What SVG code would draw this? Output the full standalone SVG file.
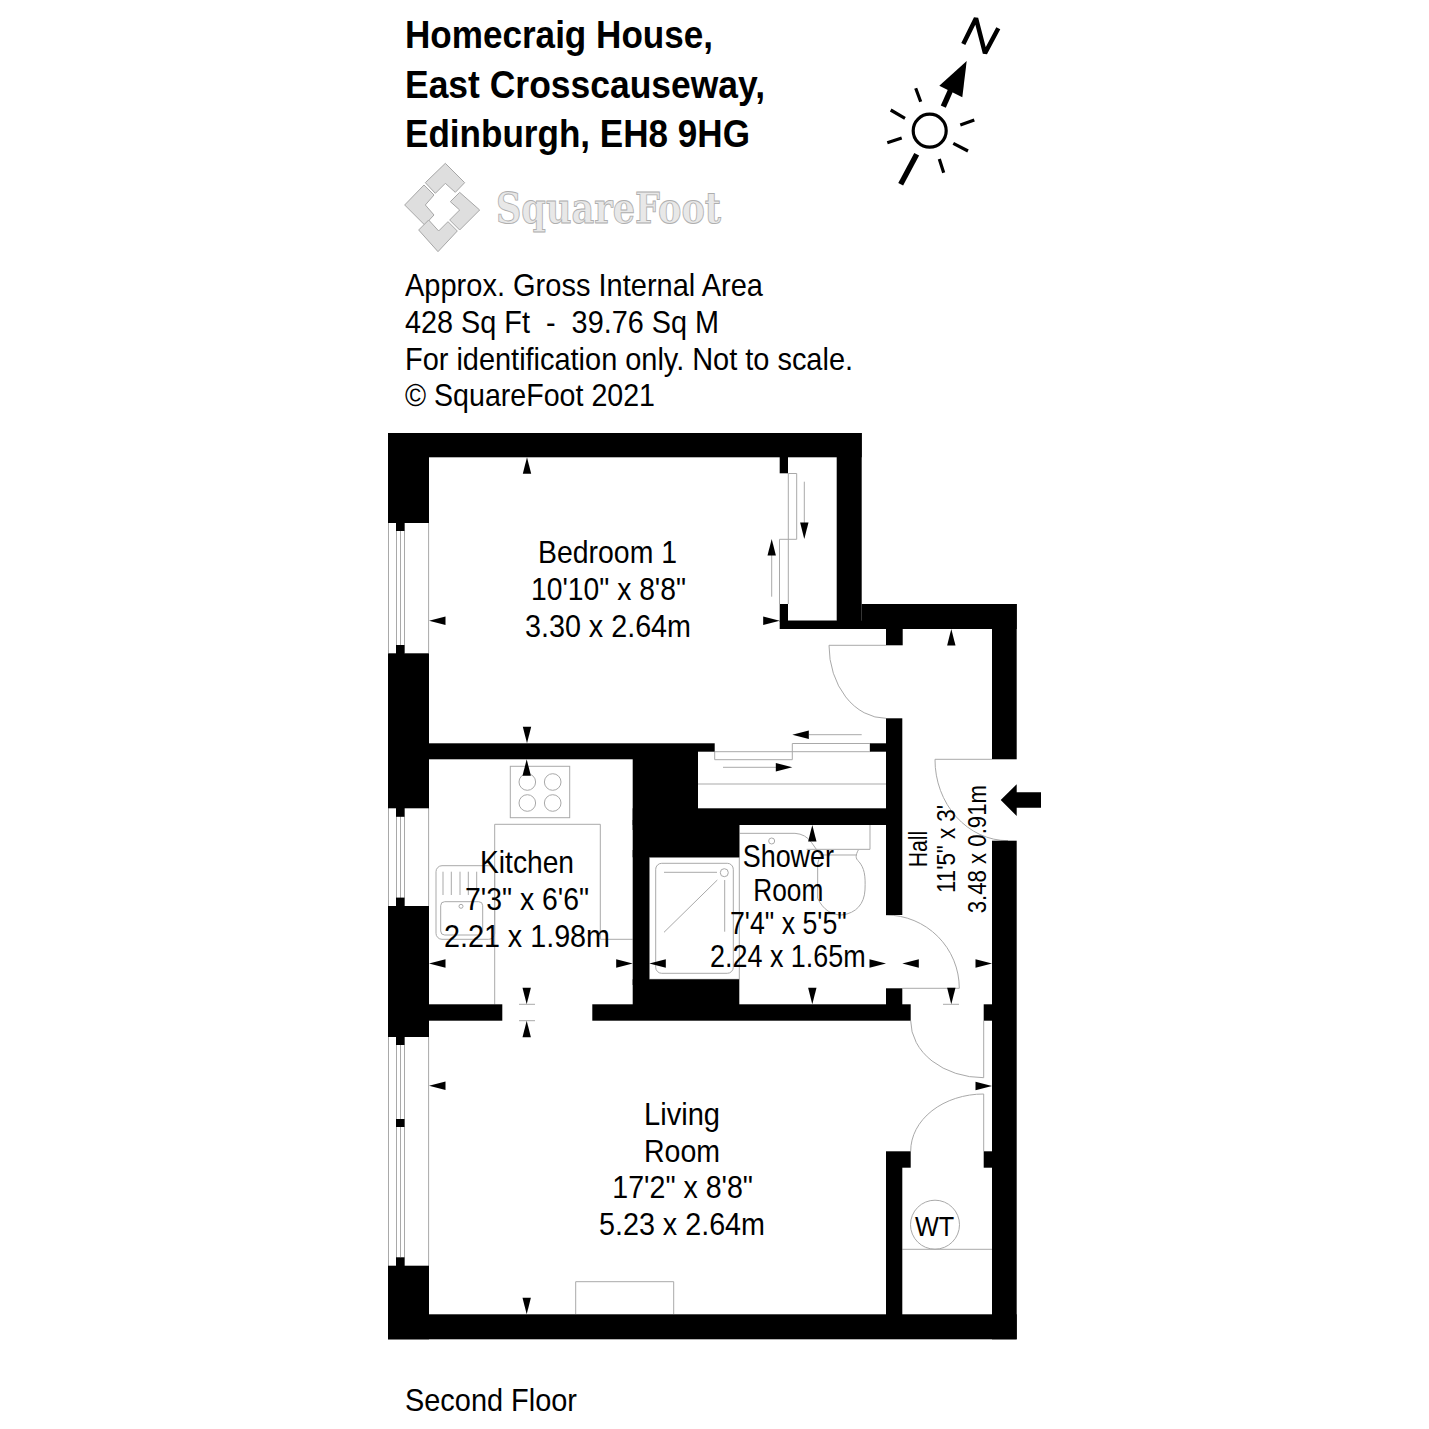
<svg xmlns="http://www.w3.org/2000/svg" xmlns:xlink="http://www.w3.org/1999/xlink" width="1429" height="1429" viewBox="0 0 1429 1429">
<style>
text{font-family:"Liberation Sans",Arial,sans-serif;fill:#000;white-space:pre}
.t{font-size:38px;font-weight:700}
.i{font-size:32px}
.r{font-size:32px}
.h{font-size:26px}
.wall{fill:#000}
.ln{fill:none;stroke:#a9a9a9;stroke-width:1}
.ar{fill:#000}
.sun{fill:none;stroke:#000;stroke-width:3.2}
.logo{fill:#dedede;stroke:#a6a6a6;stroke-width:3}
</style>
<defs>
<polygon id="tri" points="0,0 4.2,16.5 -4.2,16.5"/>
</defs>
<rect width="1429" height="1429" fill="#fff"/>

<g id="title">
<text class="t" x="405" y="48" textLength="308" lengthAdjust="spacingAndGlyphs">Homecraig House,</text>
<text class="t" x="405" y="98" textLength="360" lengthAdjust="spacingAndGlyphs">East Crosscauseway,</text>
<text class="t" x="405" y="147" textLength="345" lengthAdjust="spacingAndGlyphs">Edinburgh, EH8 9HG</text>
</g>

<g id="compass">
<circle class="sun" cx="929.7" cy="130.7" r="16.5"/>
<path class="sun" d="M915.7 88.3L920.7 101.7M890.7 110L905 118.3M887.3 142.7L901.7 138M974.3 120L960.3 125M953.3 143.3L968 151M939.3 159L943.7 172.7"/>
<path d="M916.7 154.3L900.7 184.3" stroke="#000" stroke-width="5.5" fill="none"/>
<path d="M943.3 106.7L952 87" stroke="#000" stroke-width="5.5" fill="none"/>
<polygon points="966.7,61 939.3,85.7 962.3,97.3" fill="#000"/>
<path d="M963.3 44L976 18.3L985 53.3L998.3 28.3" stroke="#000" stroke-width="4.5" fill="none" stroke-linejoin="bevel"/>
</g>

<g id="logo">
<g transform="translate(398 160) scale(.3333)">
<polygon class="logo" points="142,10 200,68 172,97 142,70 112,100 82,68"/>
<polygon class="logo" points="78,75 108,105 82,135 108,165 80,195 20,135"/>
<polygon class="logo" points="185,97 245,150 185,210 155,180 185,150 157,125"/>
<polygon class="logo" points="62,210 92,180 122,213 150,185 178,213 120,275"/>
</g>
<text x="496" y="223" textLength="225" lengthAdjust="spacingAndGlyphs" style="font-family:'DejaVu Serif',serif;font-size:42px;font-weight:700;fill:#e8e8e8;stroke:#aeaeae;stroke-width:.9">SquareFoot</text>
</g>

<g id="info">
<text class="i" x="405" y="296" textLength="358" lengthAdjust="spacingAndGlyphs">Approx. Gross Internal Area</text>
<text class="i" x="405" y="333" textLength="314" lengthAdjust="spacingAndGlyphs">428 Sq Ft  -  39.76 Sq M</text>
<text class="i" x="405" y="370" textLength="448" lengthAdjust="spacingAndGlyphs">For identification only. Not to scale.</text>
<text class="i" x="405" y="406" textLength="250" lengthAdjust="spacingAndGlyphs">© SquareFoot 2021</text>
</g>

<g id="fixtures">
<path class="ln" d="M388.5 523V653M396.5 523V653M400.5 531V645M404.5 523V653M428.6 523V653"/>
<path class="ln" d="M388.5 808V906M396.5 808V906M400.5 816V898M404.5 808V906M428.6 808V906"/>
<path class="ln" d="M388.5 1037V1266M396.5 1037V1266M400.5 1045V1257M404.5 1037V1266M428.6 1037V1266"/>
<path class="ln" d="M788.3 473.3V604M788.3 473.5H796.7V539.3H779.5V604M804.3 481.7V525M771.7 553V596.7"/>
<path class="ln" d="M788 620.7H836.7"/>
<path class="ln" d="M886 645.3H829A57 73 0 0 0 886 718.3"/>
<path class="ln" d="M714.7 751.7H870M714.7 751.7V759.7H792.3V743.5H870V751.7M809 734.7H861.7M723 767.3H777M698 784H886"/>
<path class="ln" d="M992 759.3H935A73 81 0 0 0 1008 840.7"/>
<rect class="ln" x="510.3" y="766.3" width="59.4" height="51.4"/>
<circle class="ln" cx="527.3" cy="782" r="8.3"/><circle class="ln" cx="552.7" cy="782" r="8.3"/>
<circle class="ln" cx="527.3" cy="803" r="8.3"/><circle class="ln" cx="552.7" cy="803" r="8.3"/>
<path class="ln" d="M494.7 1004.3V824.3H600.3V939.3H632.7"/>
<rect class="ln" x="436" y="865.7" width="58.7" height="73.6" rx="6"/>
<rect class="ln" x="440.7" y="901.7" width="42" height="33.3" rx="4"/>
<path class="ln" d="M443 871.7V895M451.3 871.7V895M460 871.7V895M468.3 871.7V895M476.7 871.7V895"/>
<circle class="ln" cx="461" cy="906.3" r="2"/>
<path class="ln" d="M519 1004.3H535M519 1020.7H535"/>
<path class="ln" d="M575.7 1314V1281.7H673.7V1314"/>
<rect class="ln" x="655.7" y="863.3" width="77.6" height="110" rx="6"/>
<circle class="ln" cx="724.3" cy="872.7" r="4"/>
<path class="ln" d="M664 872.3H717M724.7 880V931.7M664 932.3L717.3 880M649.3 979.3H739.3V825M649.3 857.3V979.3M649.3 857.3H739.3"/>
<g transform="translate(735 820) scale(.3333)" fill="none" stroke="#a9a9a9" stroke-width="3">
<path d="M14 40H180Q212 42 230 68Q245 90 262 112"/>
<circle cx="110" cy="63" r="9"/>
<path d="M215 88H405V15"/>
<path d="M262 105H365M370 90C362 105 360 115 372 125C388 145 392 165 390 210C388 250 365 280 320 285C290 285 265 270 248 235V140Q248 115 262 105"/>
</g>
<path class="ln" d="M902.3 988.3H959.3A73.3 73.3 0 0 0 886 915"/>
<path class="ln" d="M943 1004.3H959"/>
<path class="ln" d="M983.7 1020.7V1077.7A73 57 0 0 1 910.7 1020.7"/>
<path class="ln" d="M983.7 1151.3V1094A73 57 0 0 0 910.7 1151.3"/>
<circle class="ln" cx="935" cy="1224.7" r="24.5"/>
<path class="ln" d="M902.3 1249.3H992"/>
</g>

<g id="walls" class="wall">
<rect x="388" y="433" width="473.7" height="24.3"/>
<rect x="388" y="433" width="41" height="90"/>
<rect x="396" y="520" width="8.5" height="11"/><rect x="396" y="645" width="8.5" height="10"/>
<rect x="388" y="653.3" width="41" height="155"/>
<rect x="396" y="806" width="8.5" height="10.8"/><rect x="396" y="897.6" width="8.5" height="10"/>
<rect x="388" y="906" width="41" height="131"/>
<rect x="396" y="1035" width="8.5" height="10"/><rect x="396" y="1119" width="8.5" height="8"/><rect x="396" y="1257.3" width="8.5" height="10"/>
<rect x="388" y="1265.7" width="41" height="73.6"/>
<rect x="388" y="1314.3" width="628.7" height="25"/>
<rect x="992" y="840.7" width="24.7" height="498.6"/>
<rect x="992" y="604" width="24.7" height="155.3"/>
<rect x="836.7" y="433" width="25" height="196"/>
<rect x="861.7" y="604" width="155" height="25"/>
<rect x="779.7" y="620.7" width="212.3" height="8.3"/>
<rect x="779.7" y="455" width="8.3" height="18.3"/>
<rect x="779.7" y="604" width="8.3" height="18"/>
<rect x="886" y="627" width="16.7" height="18.3"/>
<rect x="886" y="718.3" width="16.3" height="196.7"/>
<rect x="429" y="743.3" width="285.7" height="8.4"/>
<rect x="427" y="745" width="271" height="14.3"/>
<rect x="870" y="743.3" width="18" height="8.4"/>
<rect x="632.7" y="745" width="65.3" height="85"/>
<rect x="632.7" y="808.3" width="255" height="16.7"/>
<rect x="632.7" y="820" width="106.6" height="37.3"/>
<rect x="632.7" y="850" width="16.6" height="135"/>
<rect x="632.7" y="979.3" width="106.6" height="30"/>
<rect x="427" y="1004.3" width="75.3" height="16.4"/>
<rect x="592.3" y="1004.3" width="318.4" height="16.4"/>
<rect x="886" y="988.3" width="16.3" height="18"/>
<rect x="983.7" y="1004.3" width="10" height="16.4"/>
<rect x="886" y="1151.3" width="24.7" height="16.4"/>
<rect x="886" y="1165" width="16.3" height="151"/>
<rect x="983.7" y="1151.3" width="10" height="16.4"/>
</g>

<g id="measure-arrows" class="ar">
<use href="#tri" transform="translate(527 457.3)"/>
<use href="#tri" transform="translate(527 743.3) rotate(180)"/>
<use href="#tri" transform="translate(429 620.7) rotate(-90)"/>
<use href="#tri" transform="translate(779.7 620.7) rotate(90)"/>
<use href="#tri" transform="translate(771.7 539)"/>
<use href="#tri" transform="translate(804.3 539) rotate(180)"/>
<use href="#tri" transform="translate(792.3 734.7) rotate(-90)"/>
<use href="#tri" transform="translate(792.3 767.3) rotate(90)"/>
<use href="#tri" transform="translate(951.3 629)"/>
<use href="#tri" transform="translate(526.7 759.3)"/>
<use href="#tri" transform="translate(526.7 1004.3) rotate(180)"/>
<use href="#tri" transform="translate(429 963.5) rotate(-90)"/>
<use href="#tri" transform="translate(632.7 963.5) rotate(90)"/>
<use href="#tri" transform="translate(649.3 963.5) rotate(-90)"/>
<use href="#tri" transform="translate(886 963.5) rotate(90)"/>
<use href="#tri" transform="translate(812.3 825)"/>
<use href="#tri" transform="translate(812.3 1004.3) rotate(180)"/>
<use href="#tri" transform="translate(902.3 963.5) rotate(-90)"/>
<use href="#tri" transform="translate(992 963.5) rotate(90)"/>
<use href="#tri" transform="translate(951.3 1004.3) rotate(180)"/>
<use href="#tri" transform="translate(992 1086) rotate(90)"/>
<use href="#tri" transform="translate(526.7 1020.7)"/>
<use href="#tri" transform="translate(429 1085.7) rotate(-90)"/>
<use href="#tri" transform="translate(526.7 1314.3) rotate(180)"/>
</g>

<g id="entry-arrow">
<polygon points="1000.7,800 1016.7,784.3 1016.7,792.3 1041,792.3 1041,807.7 1016.7,807.7 1016.7,816" fill="#000"/>
</g>

<g id="bedroom-label">
<text class="r" x="538" y="563.3" textLength="139" lengthAdjust="spacingAndGlyphs">Bedroom 1</text>
<text class="r" x="531" y="600" textLength="155" lengthAdjust="spacingAndGlyphs">10'10" x 8'8"</text>
<text class="r" x="525" y="636.7" textLength="166" lengthAdjust="spacingAndGlyphs">3.30 x 2.64m</text>
</g>
<g id="kitchen-label">
<text class="r" x="480" y="873.3" textLength="94" lengthAdjust="spacingAndGlyphs">Kitchen</text>
<text class="r" x="465" y="910" textLength="124" lengthAdjust="spacingAndGlyphs">7'3" x 6'6"</text>
<text class="r" x="444" y="946.7" textLength="166" lengthAdjust="spacingAndGlyphs">2.21 x 1.98m</text>
</g>
<g id="shower-label">
<text class="r" x="742.7" y="866.7" textLength="91.3" lengthAdjust="spacingAndGlyphs">Shower</text>
<text class="r" x="753.3" y="900.7" textLength="70" lengthAdjust="spacingAndGlyphs">Room</text>
<text class="r" x="730" y="934" textLength="116.7" lengthAdjust="spacingAndGlyphs">7'4" x 5'5"</text>
<text class="r" x="710" y="967.3" textLength="155.7" lengthAdjust="spacingAndGlyphs">2.24 x 1.65m</text>
</g>
<g id="hall-label">
<text class="h" transform="translate(927.3 867.3) rotate(-90)" textLength="36.6" lengthAdjust="spacingAndGlyphs">Hall</text>
<text class="h" transform="translate(955 893) rotate(-90)" textLength="88" lengthAdjust="spacingAndGlyphs">11'5" x 3'</text>
<text class="h" transform="translate(985.7 913.3) rotate(-90)" textLength="128.3" lengthAdjust="spacingAndGlyphs">3.48 x 0.91m</text>
</g>
<g id="living-label">
<text class="r" x="644" y="1125" textLength="76" lengthAdjust="spacingAndGlyphs">Living</text>
<text class="r" x="644" y="1161.7" textLength="76" lengthAdjust="spacingAndGlyphs">Room</text>
<text class="r" x="612.3" y="1198.3" textLength="140.7" lengthAdjust="spacingAndGlyphs">17'2" x 8'8"</text>
<text class="r" x="599" y="1235" textLength="166" lengthAdjust="spacingAndGlyphs">5.23 x 2.64m</text>
</g>
<text id="wt-label" x="915" y="1235.7" textLength="39.3" lengthAdjust="spacingAndGlyphs" style="font-size:28px">WT</text>
<text id="floor-label" class="i" x="405" y="1411" textLength="172" lengthAdjust="spacingAndGlyphs">Second Floor</text>
</svg>
